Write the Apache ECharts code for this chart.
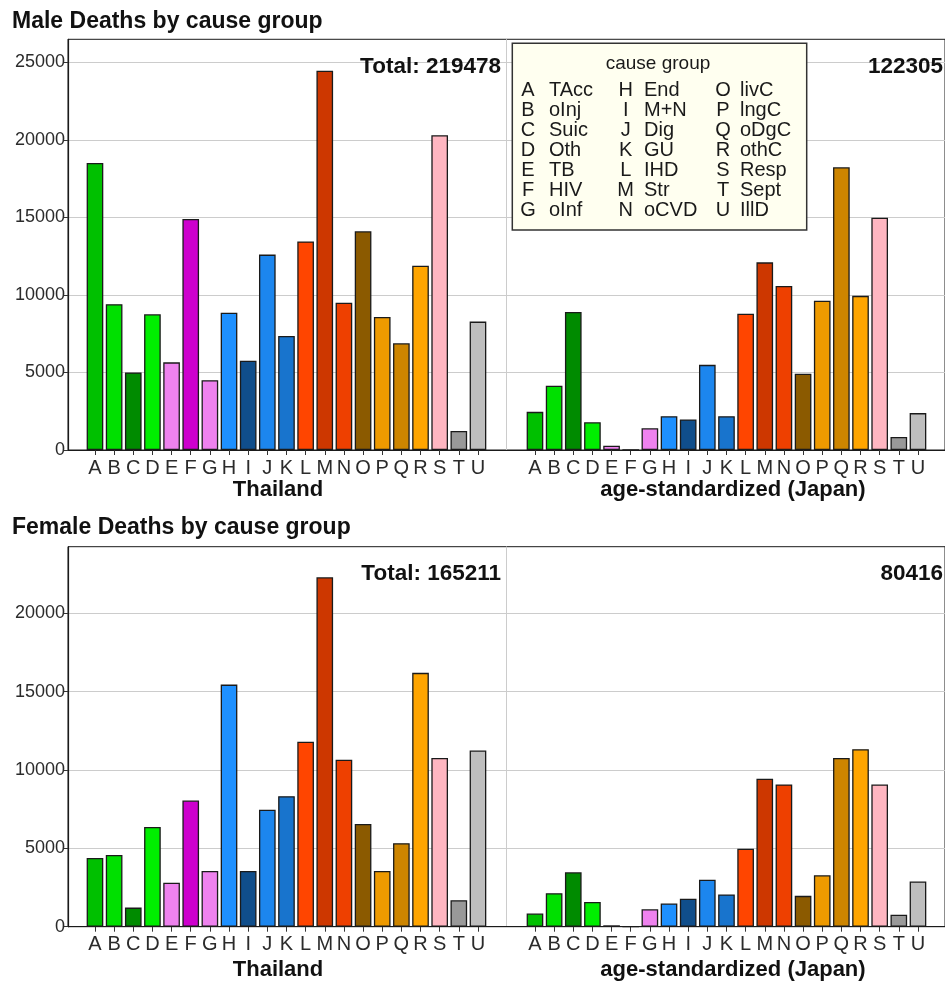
<!DOCTYPE html>
<html>
<head>
<meta charset="utf-8">
<script src="https://cdn.jsdelivr.net/npm/echarts@6/dist/echarts.min.js"></script>
<style>
  html, body { margin: 0; padding: 0; background: #ffffff; }
  #chart { width: 945px; height: 985px; }
</style>
</head>
<body>
<div id="chart"></div>
<script>
// Cause-group codes, their short names and fill colours
const causeCodes = ['A','B','C','D','E','F','G','H','I','J','K','L','M','N','O','P','Q','R','S','T','U'];
const causeNames = ['TAcc','oInj','Suic','Oth','TB','HIV','oInf','End','M+N','Dig','GU','IHD','Str','oCVD','livC','lngC','oDgC','othC','Resp','Sept','IllD'];
const causeColors = ['#00c000','#00e000','#008b00','#00ee00','#ee82ee','#cd00cd','#ee82ee',
                     '#1e90ff','#104e8b','#1c86ee','#1874cd','#ff4500','#cd3700','#ee4000',
                     '#8b5a00','#ee9a00','#cd8500','#ffa500','#ffb6c1','#999999','#bebebe'];

// Deaths by cause group (A..U)
const maleThailand   = [18500, 9400, 5000, 8750, 5650, 14900, 4500, 8850, 5750, 12600, 7350,
                        13450, 24450, 9500, 14100, 8580, 6880, 11880, 20300, 1230, 8280];
const maleJapanStd   = [2460, 4150, 8900, 1790, 280, 0, 1400, 2180, 1970, 5490, 2180,
                        8790, 12100, 10580, 4920, 9630, 18230, 9940, 14980, 840, 2380];
const femaleThailand = [4390, 4580, 1220, 6360, 2800, 8050, 3550, 15450, 3550, 7470, 8330,
                        11800, 22300, 10660, 6550, 3550, 5330, 16200, 10770, 1690, 11240];
const femaleJapanStd = [840, 2140, 3470, 1580, 90, 0, 1110, 1480, 1780, 3000, 2060,
                        4970, 9440, 9080, 1970, 3280, 10770, 11330, 9080, 770, 2890];

// Totals printed in each panel
const maleTotals   = ['Total: 219478', '122305'];
const femaleTotals = ['Total: 165211', '80416'];

// Y-axis tick labels
const maleTicks   = [0, 5000, 10000, 15000, 20000, 25000];
const femaleTicks = [0, 5000, 10000, 15000, 20000];

const panelNames = ['Thailand', 'age-standardized (Japan)'];

const FONT = '"Liberation Sans", Arial, Helvetica, sans-serif';
const INK = '#1a1a1a';
const GRIDLINE = '#cccccc';

const rows = [
  { title: 'Male Deaths by cause group', left: maleThailand, right: maleJapanStd,
    totals: maleTotals, ticks: maleTicks, top: 39.3, base: 450, max: 26480,
    titleY: 22, totalY: 67, xTitleY: 490 },
  { title: 'Female Deaths by cause group', left: femaleThailand, right: femaleJapanStd,
    totals: femaleTotals, ticks: femaleTicks, top: 546.7, base: 926.7, max: 24250,
    titleY: 528, totalY: 574, xTitleY: 970 }
];

const frameLeft = 68, frameWidth = 879.4;
const band = 19.15;
const leftPanelX = 85.4, rightPanelX = 525.4;

const grid = [], xAxis = [], yAxis = [], series = [], graphic = [];

rows.forEach((r, i) => {
  const h = r.base - r.top;
  const g0 = grid.length;
  // frame grid: border, y axis, gridlines, panel separator
  grid.push({ left: frameLeft, top: r.top, width: frameWidth, height: h,
              show: true, borderColor: INK, borderWidth: 1, backgroundColor: 'transparent' });
  grid.push({ left: leftPanelX, top: r.top, width: band * 21, height: h });
  grid.push({ left: rightPanelX, top: r.top, width: band * 21, height: h });

  xAxis.push({ gridIndex: g0, type: 'value', min: 0, max: 2, interval: 1,
    axisLine: { show: true, onZero: false, lineStyle: { color: INK, width: 1.2 } },
    axisTick: { show: false }, axisLabel: { show: false },
    splitLine: { show: true, lineStyle: { color: GRIDLINE, width: 1 } } });
  yAxis.push({ gridIndex: g0, type: 'value', min: 0, max: r.max, interval: 5000,
    axisLine: { show: true, lineStyle: { color: INK, width: 1.2 } },
    axisTick: { show: true, length: 5, customValues: r.ticks, lineStyle: { color: '#333' } },
    axisLabel: { customValues: r.ticks, formatter: v => String(v),
                 fontSize: 18, fontFamily: FONT, color: '#2b2b2b', margin: 3 },
    splitLine: { show: true, lineStyle: { color: GRIDLINE, width: 1 } } });

  [r.left, r.right].forEach((vals, k) => {
    const gi = g0 + 1 + k;
    xAxis.push({ gridIndex: gi, type: 'category', data: causeCodes, boundaryGap: true,
      axisLine: { show: false },
      axisTick: { show: true, alignWithLabel: true, length: 5, lineStyle: { color: '#333' } },
      axisLabel: { interval: 0, fontSize: 20, fontFamily: FONT, color: '#2b2b2b', margin: 8 } });
    yAxis.push({ gridIndex: gi, type: 'value', min: 0, max: r.max, show: false });
    series.push({ type: 'bar', xAxisIndex: gi, yAxisIndex: gi, data: vals,
      barWidth: '87%', z: 3,
      itemStyle: { color: p => causeColors[p.dataIndex], borderColor: INK, borderWidth: 1.3 } });
  });

  graphic.push({ type: 'text', x: 12, y: r.titleY, z: 10,
    style: { text: r.title, font: 'bold 23px ' + FONT, fill: '#111', textVerticalAlign: 'middle' } });
  graphic.push({ type: 'text', x: 501, y: r.totalY, z: 10,
    style: { text: r.totals[0], font: 'bold 22.5px ' + FONT, fill: '#111', textAlign: 'right', textVerticalAlign: 'middle' } });
  graphic.push({ type: 'text', x: 943, y: r.totalY, z: 10,
    style: { text: r.totals[1], font: 'bold 22.5px ' + FONT, fill: '#111', textAlign: 'right', textVerticalAlign: 'middle' } });
  graphic.push({ type: 'text', x: 278, y: r.xTitleY, z: 10,
    style: { text: panelNames[0], font: 'bold 22px ' + FONT, fill: '#111', textAlign: 'center', textVerticalAlign: 'middle' } });
  graphic.push({ type: 'text', x: 733, y: r.xTitleY, z: 10,
    style: { text: panelNames[1], font: 'bold 22px ' + FONT, fill: '#111', textAlign: 'center', textVerticalAlign: 'middle' } });
});

// Cause-group key
const key = [{ type: 'rect', shape: { x: 512.3, y: 43.3, width: 294.4, height: 186.7 },
  style: { fill: '#fffff0', stroke: '#333', lineWidth: 1.5 }, z: 20 },
  { type: 'text', x: 658, y: 63.5, z: 21,
    style: { text: 'cause group', font: '19px ' + FONT, fill: '#1a1a1a', textAlign: 'center', textVerticalAlign: 'middle' } }];
const codeX = [528, 625.7, 723], nameX = [549, 644, 740];
causeCodes.forEach((c, idx) => {
  const col = Math.floor(idx / 7), row = idx % 7;
  const y = 90.7 + 20 * row;
  key.push({ type: 'text', x: codeX[col], y: y, z: 21,
    style: { text: c, font: '20px ' + FONT, fill: '#1a1a1a', textAlign: 'center', textVerticalAlign: 'middle' } });
  key.push({ type: 'text', x: nameX[col], y: y, z: 21,
    style: { text: causeNames[idx], font: '20px ' + FONT, fill: '#1a1a1a', textAlign: 'left', textVerticalAlign: 'middle' } });
});

const chart = echarts.init(document.getElementById('chart'), null, { renderer: 'canvas' });
chart.setOption({
  backgroundColor: '#ffffff',
  animation: false,
  textStyle: { fontFamily: FONT },
  grid, xAxis, yAxis, series,
  graphic: graphic.concat(key)
});
</script>
</body>
</html>
